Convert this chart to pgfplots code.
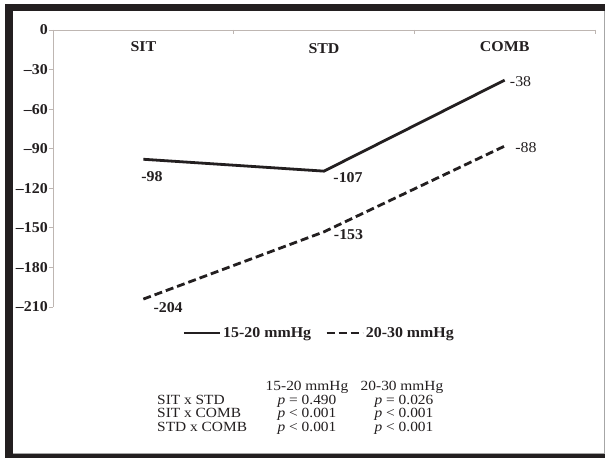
\documentclass[border=0pt]{standalone}
\usepackage{fontspec}
\setmainfont{Liberation Serif}
\newfontfamily\chartfont[FakeStretch=1.06]{Liberation Serif}
\newfontfamily\tabfont[FakeStretch=1.1]{Liberation Serif}
\usepackage{pgfplots}
\pgfplotsset{compat=1.18}
\definecolor{ink}{RGB}{35,31,32}
\definecolor{axgray}{RGB}{190,182,178}
\newcommand{\bl}{\chartfont\bfseries\fontsize{15}{15}\selectfont}
\newcommand{\rl}{\chartfont\fontsize{15}{15}\selectfont}
\begin{document}
\begin{tikzpicture}
\path[use as bounding box] (0pt,0pt) rectangle (605pt,458pt);
\fill[ink] (5pt,0pt) rectangle (605pt,454pt);
\fill[white] (13pt,4pt) rectangle (604pt,447pt);
\draw[gray!70, line width=1pt] (13pt,4.5pt) -- (604pt,4.5pt) -- (604pt,447pt);
\begin{axis}[
  at={(53pt,428pt)}, anchor=origin, scale only axis,
  width=542pt, height=277pt,
  xmin=0, xmax=3, ymin=-210, ymax=0,
  clip=false,
  axis x line*=top, axis y line*=left,
  axis line style={axgray, line width=0.8pt, -},
  tick align=outside,
  major tick length=4pt,
  xtick={0,1,2,3}, xticklabels={},
  x tick style={axgray, line width=0.8pt, yshift=-4pt},
  y tick style={axgray, line width=0.8pt},
  ytick={-210,-180,-150,-120,-90,-60,-30,0},
  yticklabels={\textendash210,\textendash180,\textendash150,\textendash120,\textendash90,\textendash60,\textendash30,0},
  yticklabel style={font=\bl, text=ink, inner sep=1pt},
  legend style={at={(0.491,-0.094)}, anchor=center, draw=none, fill=none,
    legend columns=2, font=\bl, text=ink,
    /tikz/every even column/.append style={column sep=12pt}},
  legend image code/.code={\draw[#1] (0pt,0pt) -- (36pt,0pt);},
]
\addplot[ink, line width=2.8pt] coordinates {(0.5,-98) (1.5,-107) (2.5,-38)};
\addplot[ink, line width=2.8pt, dash pattern=on 8pt off 4pt] coordinates {(0.5,-204) (1.5,-153) (2.5,-88)};
\legend{15-20 mmHg, 20-30 mmHg}
\node[font=\bl, text=ink] at (axis cs:0.5,-12.3) {SIT};
\node[font=\bl, text=ink] at (axis cs:1.5,-13.8) {STD};
\node[font=\bl, text=ink] at (axis cs:2.5,-12.3) {COMB};
\node[font=\bl, text=ink] at (axis cs:0.548,-111.4) {-98};
\node[font=\bl, text=ink] at (axis cs:1.633,-112.2) {-107};
\node[font=\bl, text=ink] at (axis cs:1.636,-155.4) {-153};
\node[font=\bl, text=ink] at (axis cs:0.637,-210.4) {-204};
\node[font=\rl, text=ink] at (axis cs:2.588,-39) {-38};
\node[font=\rl, text=ink] at (axis cs:2.618,-89.5) {-88};
\end{axis}
\begin{scope}[every node/.style={font=\tabfont\fontsize{14}{14}\selectfont, text=ink, inner sep=0pt}]
\node[anchor=base] at (307pt,67.7pt) {15-20 mmHg};
\node[anchor=base] at (402pt,67.7pt) {20-30 mmHg};
\node[anchor=base west] at (157pt,54pt) {SIT x STD};
\node[anchor=base west] at (157pt,40.3pt) {SIT x COMB};
\node[anchor=base west] at (157pt,26.3pt) {STD x COMB};
\node[anchor=base] at (307pt,54pt) {\textit{p} = 0.490};
\node[anchor=base] at (404pt,54pt) {\textit{p} = 0.026};
\node[anchor=base] at (307pt,40.3pt) {\textit{p} < 0.001};
\node[anchor=base] at (404pt,40.3pt) {\textit{p} < 0.001};
\node[anchor=base] at (307pt,26.3pt) {\textit{p} < 0.001};
\node[anchor=base] at (404pt,26.3pt) {\textit{p} < 0.001};
\end{scope}
\end{tikzpicture}
\end{document}
